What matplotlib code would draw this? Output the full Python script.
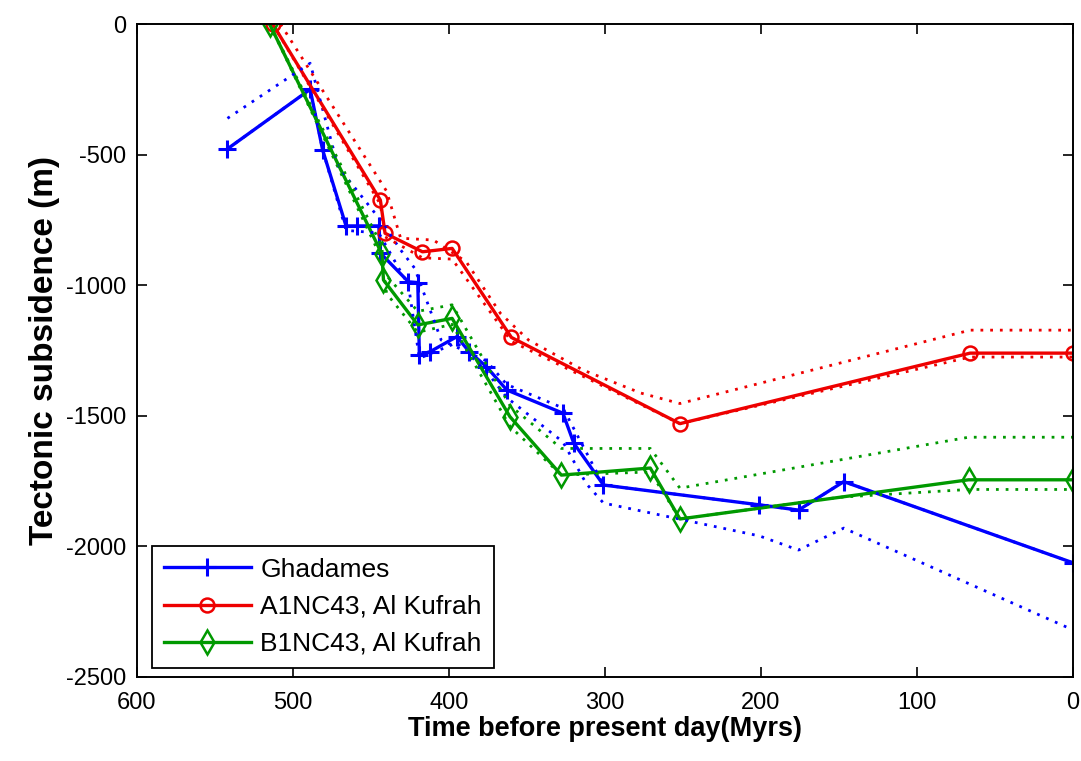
import matplotlib
matplotlib.use("Agg")
import matplotlib.pyplot as plt

plt.rcParams['font.family'] = ['Liberation Sans', 'DejaVu Sans']
plt.rcParams['axes.unicode_minus'] = False

# Ghadames (blue)
gh_t = [542, 489, 481, 466, 459, 445, 444, 426, 420, 419, 412, 395, 387, 376, 363, 327, 320, 301, 201, 176, 147, 0]
gh_s = [-478, -250, -482, -773, -773, -773, -877, -987, -990, -1267, -1254, -1197, -1255, -1312, -1401, -1490, -1605, -1765, -1841, -1861, -1752, -2063]
gh_up_t = [542, 489, 471, 444, 431, 422, 405, 376, 363, 327, 301, 201, 176, 147, 0]
gh_up_s = [-361, -150, -547, -750, -865, -935, -1210, -1290, -1380, -1470, -1765, -1841, -1861, -1752, -2063]
gh_lo_t = [542, 489, 481, 466, 445, 426, 419, 395, 376, 363, 327, 312, 301, 201, 176, 147, 0]
gh_lo_s = [-478, -250, -482, -790, -800, -1000, -1280, -1220, -1330, -1430, -1600, -1760, -1834, -1960, -2014, -1930, -2320]

# A1NC43, Al Kufrah (red)
a1_t = [513, 444, 441, 417, 398, 360, 252, 66, 0]
a1_s = [0, -674, -801, -872, -859, -1200, -1530, -1260, -1260]
a1_up_t = [508, 440, 431, 410, 389, 367, 349, 314, 277, 252, 66, 0]
a1_up_s = [0, -640, -820, -827, -910, -1108, -1210, -1325, -1413, -1453, -1172, -1172]
a1_lo_t = [513, 444, 441, 417, 398, 360, 252, 66, 0]
a1_lo_s = [0, -690, -815, -895, -900, -1215, -1530, -1275, -1275]

# B1NC43, Al Kufrah (green)
b1_t = [515, 443, 442, 420, 398, 361, 328, 271, 252, 67, 0]
b1_s = [0, -880, -980, -1152, -1127, -1503, -1727, -1700, -1895, -1745, -1745]
b1_up_t = [515, 443, 442, 420, 398, 361, 328, 305, 271, 252, 67, 0]
b1_up_s = [0, -850, -950, -1100, -1075, -1460, -1625, -1625, -1625, -1777, -1582, -1582]
b1_lo_t = [515, 443, 440, 420, 398, 361, 328, 271, 252, 150, 67, 0]
b1_lo_s = [0, -900, -1032, -1180, -1150, -1540, -1727, -1715, -1895, -1812, -1782, -1782]

blue = '#0000ff'
red = '#ee0000'
green = '#009900'

fig = plt.figure(figsize=(10.81, 7.61), dpi=100)
ax = fig.add_axes([0.1267, 0.1104, 0.866, 0.858])

dot = (0, (1, 2.5))
ax.plot(gh_t, gh_s, color=blue, lw=2.4, marker='+', ms=13, mew=2.2, label='Ghadames')
ax.plot(a1_t, a1_s, color=red, lw=2.4, marker='o', ms=10, mew=1.8, mfc='none', label='A1NC43, Al Kufrah')
ax.plot(b1_t, b1_s, color=green, lw=2.4, marker='d', ms=12, mew=1.8, mfc='none', label='B1NC43, Al Kufrah')

# dotted min / max envelopes
for t, s, c in [(gh_up_t, gh_up_s, blue), (gh_lo_t, gh_lo_s, blue),
                (a1_up_t, a1_up_s, red), (a1_lo_t, a1_lo_s, red),
                (b1_up_t, b1_up_s, green), (b1_lo_t, b1_lo_s, green)]:
    ax.plot(t, s, color=c, lw=2, linestyle=dot)

ax.set_xlim(600, 0)
ax.set_ylim(-2500, 0)
ax.set_xticks([600, 500, 400, 300, 200, 100, 0])
ax.set_yticks([0, -500, -1000, -1500, -2000, -2500])
ax.tick_params(direction='in', length=7, width=1.2, labelsize=17, top=True, right=True,
               labeltop=False, labelright=False)
ax.tick_params(axis='x', pad=11)
ax.tick_params(axis='y', pad=8)
for sp in ax.spines.values():
    sp.set_linewidth(1.4)

ax.set_xlabel('Time before present day(Myrs)', fontsize=19.5, fontweight='bold', labelpad=1)
ax.set_ylabel('Tectonic subsidence (m)', fontsize=24, fontweight='bold', labelpad=4)

leg = ax.legend(loc='lower left', fontsize=19, fancybox=False, framealpha=1,
                edgecolor='black', borderpad=0.45, handlelength=3.3, labelspacing=0.5,
                handletextpad=0.35, borderaxespad=0, bbox_to_anchor=(0.016, 0.014))
leg.get_frame().set_linewidth(1.3)

fig.savefig('out.png', dpi=100)
